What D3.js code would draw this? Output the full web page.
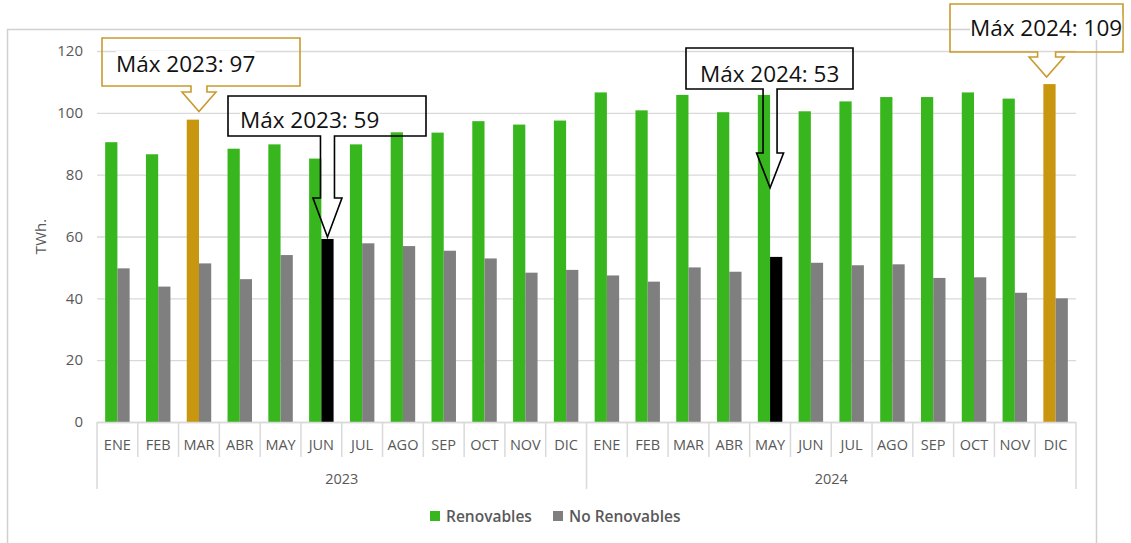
<!DOCTYPE html>
<html>
<head>
<meta charset="utf-8">
<script src="https://cdn.jsdelivr.net/npm/d3@7"></script>
<style>
  body { margin: 0; background: #fff; }
  svg { display: block; font-family: 'Open Sans', 'Noto Sans', sans-serif; }
</style>
</head>
<body>
<div id="chart"></div>
<script>
// data (TWh.)
const months = ['ENE', 'FEB', 'MAR', 'ABR', 'MAY', 'JUN', 'JUL', 'AGO', 'SEP', 'OCT', 'NOV', 'DIC'];
const years  = ['2023', '2024'];

const renovables = [
    90.5, 86.6, 97.8, 88.4, 89.8, 85.2, 89.8, 93.7, 93.6, 97.3, 96.2, 97.5,
    106.6, 100.8, 105.8, 100.2, 105.8, 100.5, 103.7, 105.1, 105.1, 106.6, 104.6, 109.3
];
const noRenovables = [
    49.7, 43.8, 51.3, 46.2, 54.0, 59.2, 57.8, 56.9, 55.4, 52.9, 48.3, 49.2,
    47.4, 45.4, 50.0, 48.6, 53.4, 51.5, 50.7, 51.0, 46.6, 46.8, 41.8, 40.0
];
const seriesNames = ['Renovables', 'No Renovables'];
const yTicks = [0, 20, 40, 60, 80, 100, 120];

// highlighted maxima: [category index, series index]
const maxRenov   = [2, 23];
const maxNoRenov = [5, 16];

// callout texts
const callouts = [
    { label: 'Máx 2023: 97',  idx: 2,  series: 0, kind: 'gold' },
    { label: 'Máx 2023: 59',  idx: 5,  series: 1, kind: 'black' },
    { label: 'Máx 2024: 53',  idx: 16, series: 1, kind: 'black' },
    { label: 'Máx 2024: 109', idx: 23, series: 0, kind: 'gold' }
];

const width = 1131, height = 543;
const colGreen = '#38b61d', colGray = '#7f7f7f', colGold = '#c8960f', colBlack = '#000000';
const colAxis = '#d9d9d9', colText = '#595959';

const svg = d3.select('#chart')
    .append('svg')
      .attr('width', width)
      .attr('height', height);

// chart border
svg.append('path')
    .attr('d', `M7.5,${height} V29.5 H1096.5 V${height}`)
    .attr('fill', 'none')
    .attr('stroke', '#d0d0d0')
    .attr('stroke-width', 1.5);

const cats = d3.range(months.length * years.length);

const x = d3.scaleBand()
    .domain(cats)
    .range([97, 1076])
    .paddingInner(0.4)
    .paddingOuter(0.2);

const xs = d3.scaleBand()
    .domain([0, 1])
    .range([0, x.bandwidth()]);

const y = d3.scaleLinear()
    .domain([0, 120])
    .range([422, 51]);

const step = x.step();
const boundary = (i) => x(i) - step * 0.2;

// gridlines + y labels
const yAxis = svg.append('g')
    .attr('transform', 'translate(97,0)')
    .call(d3.axisLeft(y).tickValues(yTicks).tickSize(-(1076 - 97)).tickPadding(14));
yAxis.select('.domain').remove();
yAxis.selectAll('.tick line').attr('stroke', colAxis).attr('stroke-width', 1.3);
yAxis.selectAll('.tick text')
    .attr('fill', colText)
    .style('font-size', '15px')
    .style('font-family', "'Open Sans', sans-serif");

// y title
svg.append('text')
    .attr('transform', `translate(46, ${y(60)}) rotate(-90)`)
    .attr('text-anchor', 'middle')
    .attr('fill', colText)
    .style('font-size', '15px')
    .text('TWh.');

// bars
const colorFor = (i, s) => {
    if (s === 0) return maxRenov.includes(i) ? colGold : colGreen;
    return maxNoRenov.includes(i) ? colBlack : colGray;
};

const bars = svg.append('g');
[renovables, noRenovables].forEach((vals, s) => {
    bars.selectAll(`.bar-${s}`)
        .data(vals)
        .enter()
        .append('rect')
          .attr('class', `bar-${s}`)
          .attr('x', (d, i) => x(i) + xs(s))
          .attr('y', (d) => y(d))
          .attr('width', xs.bandwidth())
          .attr('height', (d) => y(0) - y(d))
          .attr('fill', (d, i) => colorFor(i, s));
});

// category axis
const axisG = svg.append('g');
axisG.append('line')
    .attr('x1', 97).attr('x2', 1076)
    .attr('y1', y(0) + 0.5).attr('y2', y(0) + 0.5)
    .attr('stroke', colAxis).attr('stroke-width', 1.5);

axisG.selectAll('.sep')
    .data(d3.range(cats.length + 1))
    .enter()
    .append('line')
      .attr('x1', (d) => d < cats.length ? boundary(d) : boundary(d - 1) + step)
      .attr('x2', (d) => d < cats.length ? boundary(d) : boundary(d - 1) + step)
      .attr('y1', y(0))
      .attr('y2', (d) => d % months.length === 0 ? 489 : 457)
      .attr('stroke', colAxis)
      .attr('stroke-width', 1.5);

axisG.selectAll('.mlab')
    .data(cats)
    .enter()
    .append('text')
      .attr('x', (d) => x(d) + x.bandwidth() / 2)
      .attr('y', 450)
      .attr('text-anchor', 'middle')
      .attr('fill', colText)
      .style('font-size', '14.5px')
      .text((d) => months[d % months.length]);

axisG.selectAll('.ylab')
    .data(years)
    .enter()
    .append('text')
      .attr('x', (d, i) => (boundary(i * 12) + boundary(i * 12 + 11) + step) / 2)
      .attr('y', 484)
      .attr('text-anchor', 'middle')
      .attr('fill', colText)
      .style('font-size', '14.5px')
      .text((d) => d);

// legend
const legend = svg.selectAll('.legend')
    .data(seriesNames)
    .enter()
    .append('g')
      .attr('class', 'legend')
      .attr('transform', (d, i) => `translate(${430 + i * 123}, 511)`);

legend.append('rect')
    .attr('width', 10)
    .attr('height', 10)
    .attr('fill', (d, i) => i === 0 ? colGreen : colGray);

legend.append('text')
    .attr('x', 16)
    .attr('y', 10.5)
    .attr('fill', colText)
    .style('font-size', '15.5px')
    .style('font-weight', 600)
    .text((d) => d);

// callouts (box layout in px, tip anchored to the bar via scales)
const calloutLayout = [
    { box: [102, 38, 198, 48], shaftW: 16, shaftEnd: 92,  headW: 34, tipDx: 0,  tipDy: -8,  tx: 14, ty: 34 },
    { box: [228, 96, 198, 40], shaftW: 14, shaftEnd: 198, headW: 29, tipDx: 0,  tipDy: -2,  tx: 12, ty: 32 },
    { box: [686, 48, 167, 41], shaftW: 14, shaftEnd: 153, headW: 27, tipDx: 0,  tipDy: -69, tx: 14, ty: 34 },
    { box: [950, 4, 173, 48],  shaftW: 18, shaftEnd: 57,  headW: 35, tipDx: -9, tipDy: -7,  tx: 20, ty: 32 }
];

callouts.forEach((c, k) => {
    const L = calloutLayout[k];
    const val = c.series === 0 ? renovables[c.idx] : noRenovables[c.idx];
    // gold arrows point at the category centre, black ones at the bar itself
    const cx = (c.kind === 'gold' || c.idx === 16)
        ? x(c.idx) + x.bandwidth() / 2
        : x(c.idx) + xs(c.series) + xs.bandwidth() / 2;
    const tipX = cx + L.tipDx;
    const tipY = y(val) + L.tipDy;
    const [bx, by, bw, bh] = L.box;
    const sx = tipX, hw = L.shaftW / 2, hh = L.headW / 2;
    const stroke = c.kind === 'gold' ? '#c99a2e' : '#000';

    const p = d3.path();
    p.moveTo(bx, by);
    p.lineTo(bx + bw, by);
    p.lineTo(bx + bw, by + bh);
    p.lineTo(sx + hw, by + bh);
    p.lineTo(sx + hw, L.shaftEnd);
    p.lineTo(sx + hh, L.shaftEnd);
    p.lineTo(tipX, tipY);
    p.lineTo(sx - hh, L.shaftEnd);
    p.lineTo(sx - hw, L.shaftEnd);
    p.lineTo(sx - hw, by + bh);
    p.lineTo(bx, by + bh);
    p.closePath();

    const g = svg.append('g');
    g.append('path')
        .attr('d', p.toString())
        .attr('fill', 'none')
        .attr('stroke', stroke)
        .attr('stroke-width', 1.6)
        .attr('stroke-linejoin', 'miter');

    const t = g.append('text')
        .attr('x', bx + L.tx)
        .attr('y', by + L.ty)
        .attr('fill', '#111')
        .style('font-size', '22.5px')
        .text(c.label);

    // text sits on its own white patch, hiding lines behind it
    const bb = t.node().getBBox();
    g.insert('rect', 'text')
        .attr('x', bb.x)
        .attr('y', bb.y + 3)
        .attr('width', bb.width)
        .attr('height', bb.height - 6)
        .attr('fill', '#fff');
});
</script>
</body>
</html>
